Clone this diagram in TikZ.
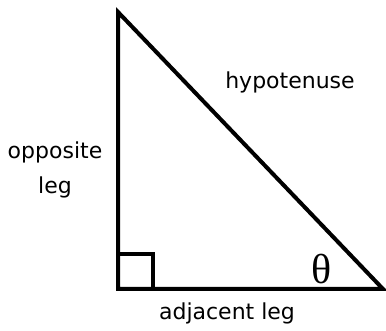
\documentclass[tikz,border=0pt]{standalone}
\usepackage{fontspec}
\setmainfont{DejaVu Sans}
\newfontfamily\thetafont{Liberation Serif}
\begin{document}
\begin{tikzpicture}[x=1pt,y=-1pt,
  leg/.style={line width=4pt,line join=miter},
  lbl/.style={font=\fontsize{22}{35}\selectfont,align=center,inner sep=0pt}]
\useasboundingbox (0,0) rectangle (386,331);
\coordinate (A) at (118,12);
\coordinate (B) at (118,289);
\coordinate (C) at (383,289);
\draw[leg] (A) -- (B) -- (C) -- cycle;
\draw[line width=3.5pt] (118,254) -- (153,254) -- (153,289);
\node[lbl,anchor=base] (hyp) at (290,89) {hypotenuse};
\node[lbl] (opp) at (55,170) {opposite\\leg};
\node[lbl,anchor=base] (adj) at (227,320) {adjacent leg};
\node[font=\thetafont\fontsize{42}{46}\selectfont,inner sep=0pt] (th) at (322,269) {θ};
\end{tikzpicture}
\end{document}
